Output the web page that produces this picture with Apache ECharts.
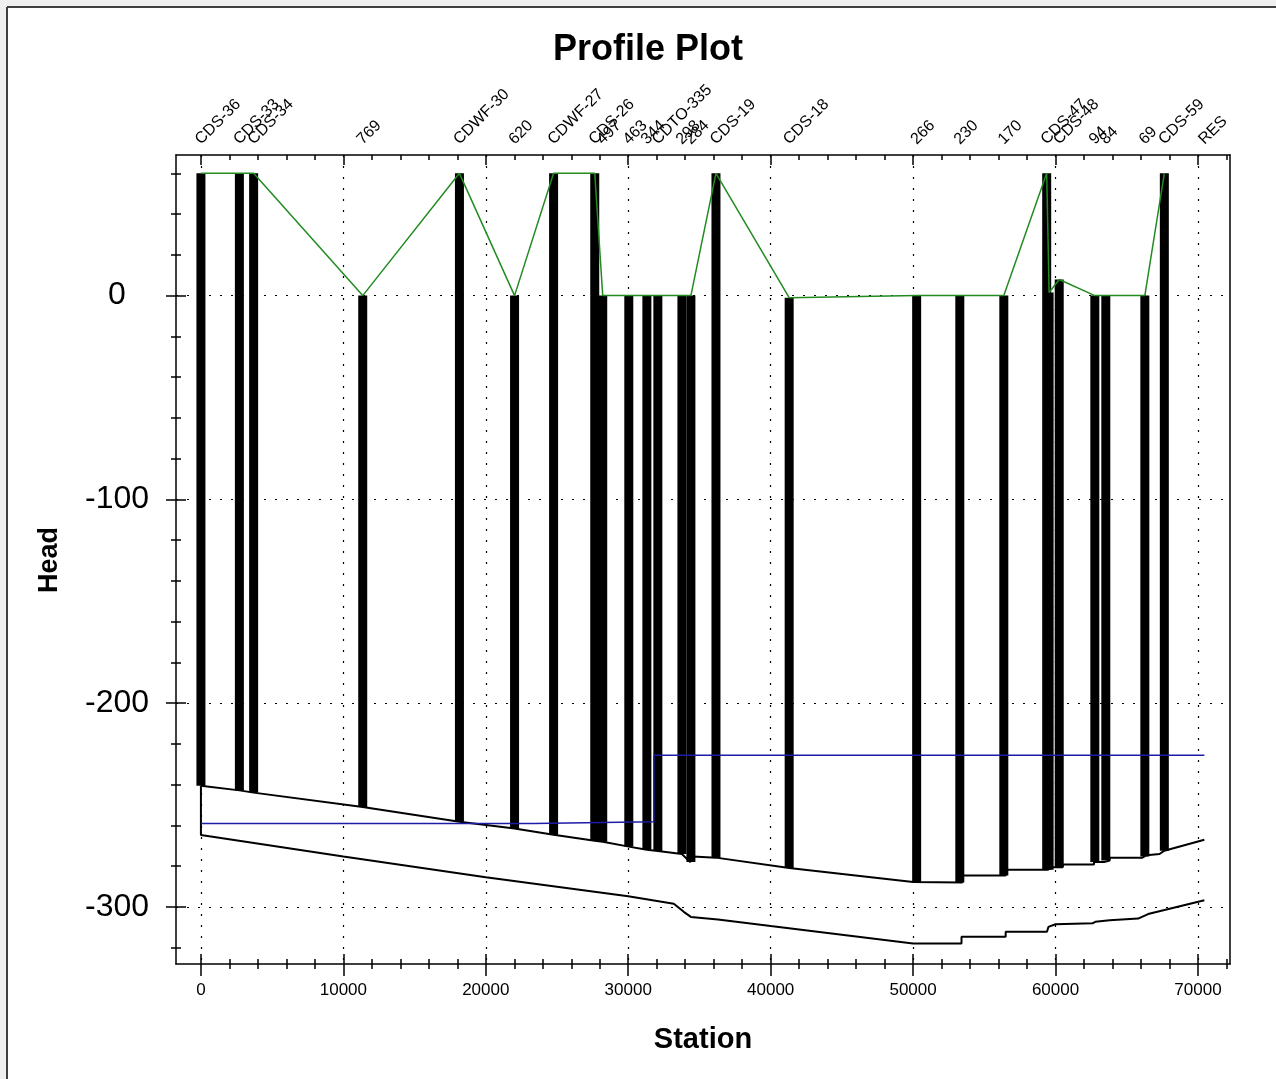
<!DOCTYPE html>
<html><head><meta charset="utf-8">
<script src="https://cdn.jsdelivr.net/npm/echarts@6/dist/echarts.min.js"></script>
<style>html,body{margin:0;padding:0;background:#fff}#c{width:1276px;height:1079px}</style>
</head><body><div id="c"></div>
<script>
// ---- node data (labels along top, bars, hydraulic grade) ----
const nodeNames    = ['CDS-36','CDS-33','CDS-34','769','CDWF-30','620','CDWF-27','CDS-26','497','463','344','CDTO-335','298','284','CDS-19','CDS-18','266','230','170','CDS-47','','CDS-48','94','84','69','CDS-59','RES'];
const nodeStations = [0,2700,3700,11360,18150,22020,24760,27650,28210,30040,31310,32080,33770,34400,36160,41300,50250,53280,56370,59380,59550,60260,62760,63530,66270,67640,70450];
const nodeHead     = [60,60,60,0,60,0,60,60,0,0,0,0,0,0,60,-1,0,0,0,60,1.5,7.9,0,0,0,60,null];
const nodeBottom   = [-240.5,-242.8,-243.9,-251,-258.2,-261.5,-264.6,-267.5,-268,-270.4,-271.9,-272.5,-274,-278,-275.8,-280.9,-287.8,-288,-284.6,-281.7,-281.7,-280.5,-278,-277.2,-275.2,-272.4,null];

// ---- upper black profile ----
const upperX = [0,2700,3700,11360,18150,22020,24760,27650,28210,30040,31310,32080,33770,34350,34550,36160,41300,50000,53450,53450,56500,56500,59500,59500,60500,60500,62700,62700,63400,63400,63800,63800,66100,66400,67300,67640,70450];
const upperY = [-240.5,-242.8,-243.9,-251,-258.2,-261.5,-264.6,-267.5,-268,-270.4,-271.9,-272.5,-274,-278,-275.2,-275.8,-280.9,-287.8,-288,-284.6,-284.6,-281.7,-281.7,-280.5,-280.5,-279.2,-279.2,-278,-278,-277.2,-277.2,-275.8,-275.8,-274.6,-274,-272.4,-267];

// ---- lower black profile ----
const lowerX = [0,0,10000,20000,30000,33200,33900,34400,36300,40000,50000,53400,53400,56500,56500,59400,59500,60000,62600,62800,63800,65800,66500,70450];
const lowerY = [-240.5,-264.7,-275.3,-285.4,-294.8,-298.4,-302.4,-304.9,-306.2,-309.4,-317.9,-317.9,-314.6,-314.6,-312.2,-312.2,-309.8,-308.5,-308,-307.3,-306.5,-305.7,-303.5,-296.7];

// ---- blue line ----
const blueX = [0,23350,23350,31800,31800,70450];
const blueY = [-259,-259,-258.2,-258.2,-225.5,-225.5];

// ---- axes ticks ----
const xMajor = [0,10000,20000,30000,40000,50000,60000,70000];
const xMinor = [0,2000,4000,6000,8000,10000,12000,14000,16000,18000,20000,22000,24000,26000,28000,30000,32000,34000,36000,38000,40000,42000,44000,46000,48000,50000,52000,54000,56000,58000,60000,62000,64000,66000,68000,70000,72000];
const yMajor = [-300,-200,-100,0];
const yMinor = [-320,-300,-280,-260,-240,-220,-200,-180,-160,-140,-120,-100,-80,-60,-40,-20,0,20,40,60];
const X_MIN = -1750, X_MAX = 72250, Y_MIN = -328, Y_MAX = 69;

const FONT = '"Liberation Sans", Arial, sans-serif';
const chart = echarts.init(document.getElementById('c'), null, {renderer:'canvas'});

function xAx(pos, extra){
  return Object.assign({type:'value', position:pos, min:X_MIN, max:X_MAX, gridIndex:0,
    axisLine:{show:false, onZero:false}, axisTick:{show:false}, axisLabel:{show:false},
    splitLine:{show:false}, minorTick:{show:false}, minorSplitLine:{show:false}}, extra);
}
function yAx(pos, extra){
  return Object.assign({type:'value', position:pos, min:Y_MIN, max:Y_MAX, gridIndex:0,
    axisLine:{show:false, onZero:false}, axisTick:{show:false}, axisLabel:{show:false},
    splitLine:{show:false}, minorTick:{show:false}, minorSplitLine:{show:false}}, extra);
}
const tickStyle = {color:'#000', width:1.5};
const dotted = {color:'#000', width:1.2, type:[2,9]};

const labelData = [];
const labelText = [];
nodeStations.forEach((s,i)=>{ if(nodeNames[i]){ labelData.push([s]); labelText.push(nodeNames[i]); }});
const barData = [];
nodeStations.forEach((s,i)=>{ if(nodeHead[i]!=null){ barData.push([s, nodeHead[i], nodeBottom[i]]); }});

const option = {
  animation:false,
  backgroundColor:'#fff',
  grid:{left:176, right:46, top:155, bottom:115, containLabel:false},
  xAxis:[
    xAx('bottom', {axisLine:{show:true, onZero:false, lineStyle:{color:'#000', width:1.5}},
      axisTick:{show:true, customValues:xMajor, length:12, inside:false, lineStyle:tickStyle},
      axisLabel:{show:true, customValues:xMajor, margin:18, color:'#000', fontSize:17, fontFamily:FONT,
        formatter:function(v){ return String(v); }},
      splitLine:{show:true, lineStyle:dotted}}),
    xAx('bottom', {axisTick:{show:true, customValues:xMajor, length:10, inside:true, lineStyle:tickStyle}}),
    xAx('bottom', {axisTick:{show:true, customValues:xMinor, length:5, inside:true, lineStyle:tickStyle}}),
    xAx('bottom', {axisTick:{show:true, customValues:xMinor, length:5, inside:false, lineStyle:tickStyle}}),
    xAx('top', {axisLine:{show:true, onZero:false, lineStyle:{color:'#000', width:1.5}},
      axisTick:{show:true, customValues:xMajor, length:10, inside:true, lineStyle:tickStyle}}),
    xAx('top', {axisTick:{show:true, customValues:xMinor, length:5, inside:true, lineStyle:tickStyle}})
  ],
  yAxis:[
    yAx('left', {axisLine:{show:true, onZero:false, lineStyle:{color:'#000', width:1.5}},
      axisTick:{show:true, customValues:yMajor, length:10, inside:false, lineStyle:tickStyle},
      axisLabel:{show:true, customValues:yMajor, margin:59, align:'center', color:'#000', fontSize:32, fontFamily:FONT,
        formatter:function(v){ return String(v); }},
      splitLine:{show:true, lineStyle:dotted}}),
    yAx('left', {axisTick:{show:true, customValues:yMajor, length:10, inside:true, lineStyle:tickStyle}}),
    yAx('left', {axisTick:{show:true, customValues:yMinor, length:5, inside:true, lineStyle:tickStyle}}),
    yAx('left', {axisTick:{show:true, customValues:yMinor, length:5, inside:false, lineStyle:tickStyle}}),
    yAx('right', {axisLine:{show:true, onZero:false, lineStyle:{color:'#000', width:1.5}}})
  ],
  graphic:[
    {type:'rect', shape:{x:0,y:0,width:1276,height:7}, style:{fill:'#f0f0f0'}, silent:true},
    {type:'rect', shape:{x:0,y:0,width:7,height:1079}, style:{fill:'#f0f0f0'}, silent:true},
    {type:'line', shape:{x1:7,y1:7,x2:1276,y2:7}, style:{stroke:'#404040', lineWidth:2}, silent:true},
    {type:'line', shape:{x1:7,y1:7,x2:7,y2:1079}, style:{stroke:'#404040', lineWidth:2}, silent:true},
    {type:'text', x:648, y:50, style:{text:'Profile Plot', font:'bold 36px '+FONT, fill:'#000', align:'center', verticalAlign:'middle'}, silent:true},
    {type:'text', x:50, y:560, rotation:Math.PI/2, style:{text:'Head', font:'bold 27px '+FONT, fill:'#000', align:'center', verticalAlign:'middle'}, silent:true},
    {type:'text', x:703, y:1040, style:{text:'Station', font:'bold 29px '+FONT, fill:'#000', align:'center', verticalAlign:'middle'}, silent:true}
  ],
  series:[
    {type:'custom', name:'Nodes', xAxisIndex:0, yAxisIndex:0, data:barData, z:2, silent:true,
      encode:{x:0, y:[1,2]},
      renderItem:function(params, api){
        const p1 = api.coord([api.value(0), api.value(1)]);
        const p2 = api.coord([api.value(0), api.value(2)]);
        const w = 9;
        return {type:'rect', shape:{x:p1[0]-w/2, y:p1[1], width:w, height:p2[1]-p1[1]}, style:{fill:'#000'}};
      }},
    {type:'line', name:'Upper', xAxisIndex:0, yAxisIndex:0, data:upperX.map((x,i)=>[x,upperY[i]]),
      symbol:'none', lineStyle:{color:'#000', width:2}, z:3, silent:true},
    {type:'line', name:'Lower', xAxisIndex:0, yAxisIndex:0, data:lowerX.map((x,i)=>[x,lowerY[i]]),
      symbol:'none', lineStyle:{color:'#000', width:2}, z:3, silent:true},
    {type:'line', name:'HGL', xAxisIndex:0, yAxisIndex:0,
      data:nodeStations.map((x,i)=>[x,nodeHead[i]]).filter(d=>d[1]!=null),
      symbol:'none', lineStyle:{color:'#228b22', width:1.5}, z:4, silent:true},
    {type:'line', name:'Blue', xAxisIndex:0, yAxisIndex:0, data:blueX.map((x,i)=>[x,blueY[i]]),
      symbol:'none', lineStyle:{color:'#1c1ca8', width:1.5}, z:5, silent:true},
    {type:'custom', name:'Labels', xAxisIndex:0, yAxisIndex:0, data:labelData, z:6, silent:true, clip:false,
      encode:{x:0},
      renderItem:function(params, api){
        const p = api.coord([api.value(0), Y_MAX]);
        return {type:'text', x:p[0]-3, y:p[1]-13, rotation:Math.PI/4,
          style:{text:labelText[params.dataIndex], fill:'#000', font:'16px '+FONT, align:'left', verticalAlign:'middle'}};
      }}
  ]
};
chart.setOption(option);
</script>
</body></html>
